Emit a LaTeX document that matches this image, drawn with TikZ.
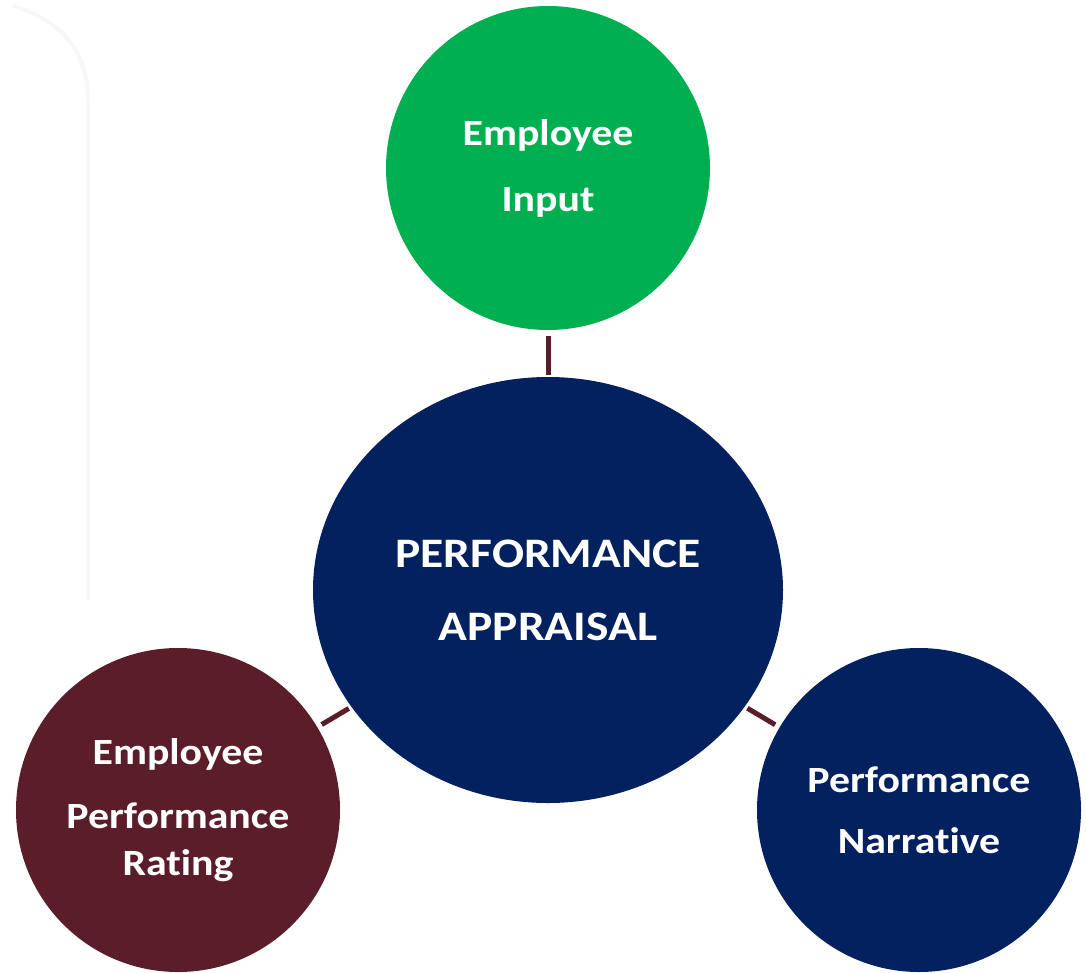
\documentclass[tikz,border=0pt]{standalone}
\usepackage{fontspec}
\setmainfont[FakeStretch=1.13, Ligatures=NoCommon]{Carlito}
\usetikzlibrary{positioning,shapes.geometric}
\definecolor{apgreen}{HTML}{00B050}
\definecolor{apnavy}{HTML}{03215F}
\definecolor{apmaroon}{HTML}{5A1D29}

\begin{document}
\begin{tikzpicture}[x=1pt, y=-1pt, on grid,
    bubble/.style={circle, minimum size=324pt, inner sep=0pt, text=white,
        align=center, font=\bfseries\fontsize{37}{66}\selectfont},
    hub/.style={ellipse, fill=apnavy, minimum width=470pt, minimum height=426pt,
        inner sep=0pt, text=white, align=center, font=\bfseries\fontsize{42}{73}\selectfont},
    link/.style={draw=apmaroon, line width=5pt}]

    \useasboundingbox (0,0) rectangle (1086,972);

    % faint curve in the back
    \draw[black!3, line width=4pt] (13,6) .. controls (60,20) and (88,50) .. (88,100) -- (88,600);

    \node[hub] (app) at (548,590) {PERFORMANCE\\APPRAISAL};
    \node[bubble, fill=apgreen] (inp) [above=422pt of app] {Employee\\Input};
    \node[bubble, fill=apmaroon, font=\bfseries\fontsize{37}{47}\selectfont] (rat)
        [below left=220pt and 370pt of app] {Employee\\[17pt]Performance\\Rating};
    \node[bubble, fill=apnavy, font=\bfseries\fontsize{37}{61}\selectfont] (nar)
        [below right=220pt and 371pt of app] {Performance\\Narrative};

    \draw[link, shorten <=6pt, shorten >=2pt] (inp) -- (app);
    \draw[link, shorten <=3pt, shorten >=5pt] (app) -- (rat);
    \draw[link, shorten <=3pt, shorten >=5pt] (app) -- (nar);

\end{tikzpicture}
\end{document}
